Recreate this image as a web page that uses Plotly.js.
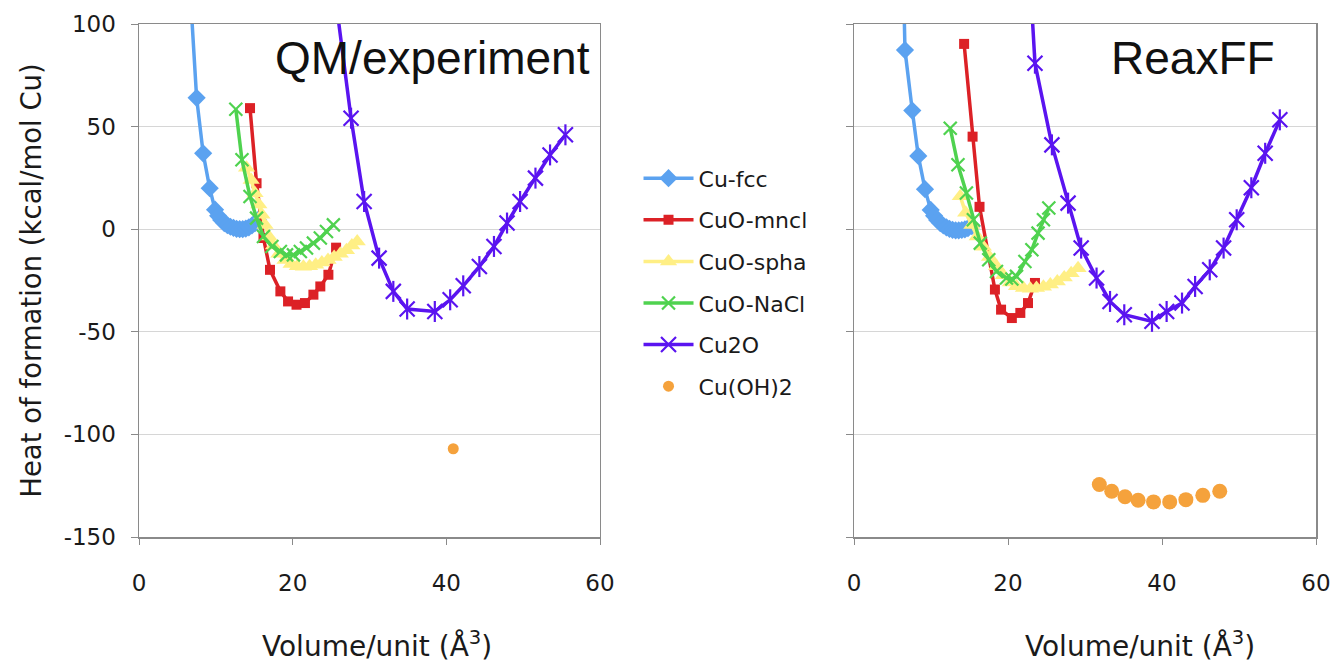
<!DOCTYPE html>
<html>
<head>
<meta charset="utf-8">
<script src="https://cdn.plot.ly/plotly-3.0.1.min.js"></script>
<style>
  html, body { margin: 0; padding: 0; background: #ffffff; }
  #chart { width: 1337px; height: 670px; }
</style>
</head>
<body>
<div id="chart"></div>
<script>
// ---- QM / experiment panel ----
const cuFccQmX = [6.6, 7.5, 8.35, 9.2, 9.9, 10.3, 10.7, 11.1, 11.5, 11.9, 12.3, 12.7, 13.1, 13.5, 13.9, 14.3, 14.7, 15.1, 15.5];
const cuFccQmY = [120, 64, 37, 20, 9.5, 6.5, 4.5, 3, 2, 1.2, 0.6, 0.2, 0, 0, 0.3, 0.9, 1.8, 3, 4.5];

const cuoMnclQmX = [14.45, 15.3, 16.2, 17.05, 18.4, 19.4, 20.5, 21.6, 22.7, 23.6, 24.65, 25.65];
const cuoMnclQmY = [59, 22.4, -4.3, -19.8, -30.3, -35.2, -36.8, -36, -31.9, -27.9, -22.2, -9];

const cuoSphaQmX = [14.0, 14.6, 15.1, 15.6, 16.0, 16.4, 16.9, 17.5, 18.2, 19.0, 19.8, 20.6, 21.4, 22.2, 23.0, 23.8, 24.6, 25.4, 26.2, 27.0, 27.7, 28.4];
const cuoSphaQmY = [30, 24, 17.5, 12, 7, 2, -3.5, -8, -12, -15, -17, -18, -18.3, -18, -17.3, -16.2, -15, -13.5, -12, -10.3, -8, -6];

const cuoNaClQmX = [12.6, 13.4, 14.45, 15.3, 16.2, 17.3, 18.4, 19.2, 20.1, 21.0, 21.8, 22.7, 23.6, 24.4, 25.3];
const cuoNaClQmY = [58.5, 33.8, 15.9, 5.4, -3.6, -8.4, -10.9, -12.5, -12.5, -10.9, -9.2, -6.8, -4.3, -1.1, 2.1];

const cu2oQmX = [25.5, 27.6, 29.3, 31.25, 33.1, 34.9, 38.5, 40.5, 42.2, 44.3, 46.2, 47.9, 49.6, 51.6, 53.5, 55.5];
const cu2oQmY = [115, 54.1, 13.5, -14.1, -30.3, -38.9, -40.1, -34.4, -27.6, -18.2, -8.4, 3, 13.5, 24.9, 36.2, 46];

const cuOH2QmX = [40.9];
const cuOH2QmY = [-107];

// ---- ReaxFF panel ----
const cuFccRxX = [6.4, 6.62, 7.57, 8.35, 9.22, 9.96, 10.4, 10.8, 11.2, 11.6, 12.0, 12.4, 12.8, 13.2, 13.6, 14.0, 14.4, 14.8, 15.3];
const cuFccRxY = [125, 87.3, 57.8, 35.7, 19.5, 9.4, 6.5, 4.5, 3, 1.8, 0.9, 0.2, -0.3, -0.6, -0.6, -0.4, -0.1, 0.5, 1.5];

const cuoMnclRxX = [14.3, 15.4, 16.3, 18.3, 19.1, 20.5, 21.6, 22.6, 23.5];
const cuoMnclRxY = [90.3, 45.1, 10.9, -29.4, -39.2, -43.3, -40.8, -36, -26.2];

const cuoSphaRxX = [13.8, 14.5, 15.3, 16.0, 16.8, 17.6, 18.5, 19.4, 20.3, 21.1, 22.0, 22.9, 23.7, 24.6, 25.5, 26.4, 27.3, 28.2, 29.1];
const cuoSphaRxY = [16, 8, 2, -3.5, -8.5, -13.5, -18, -22.5, -26, -27.8, -28.7, -29, -28.7, -28, -27, -25.5, -23.5, -21.5, -19];

const cuoNaClRxX = [12.5, 13.5, 14.6, 15.5, 16.4, 17.5, 18.5, 19.8, 20.5, 21.1, 22.2, 23.1, 23.9, 24.6, 25.3];
const cuoNaClRxY = [49.2, 31.4, 17.6, 4.6, -6.8, -14.9, -20.6, -23.8, -24.3, -23, -15.7, -10, -1.9, 4.6, 10.3];

const cu2oRxX = [22.9, 23.5, 25.7, 27.8, 29.5, 31.5, 33.25, 35.1, 38.7, 40.6, 42.6, 44.3, 46.2, 48.0, 49.7, 51.6, 53.4, 55.3];
const cu2oRxY = [120, 80.9, 41.1, 12.7, -9.2, -23.8, -35.2, -41.7, -44.9, -40.1, -36, -27.9, -19.8, -9.2, 4.6, 20.2, 37, 53.3];

const cuOH2RxX = [31.86, 33.47, 35.2, 36.9, 38.9, 41.0, 43.1, 45.3, 47.5];
const cuOH2RxY = [-124.4, -127.7, -130.4, -132.1, -132.9, -132.9, -131.8, -129.7, -127.7];

// ---- labels and ticks ----
const seriesNames = ['Cu-fcc', 'CuO-mncl', 'CuO-spha', 'CuO-NaCl', 'Cu2O', 'Cu(OH)2'];
const panelLabels = ['QM/experiment', 'ReaxFF'];
const xTickVals = [0, 20, 40, 60];
const yTickVals = [100, 50, 0, -50, -100, -150];
const yTickText = ['100', '50', '0', '-50', '-100', '-150'];
const xTitleText = 'Volume/unit (Å<sup>3</sup>)';
const yTitleText = 'Heat of formation (kcal/mol Cu)';

const colors = {
  fcc: '#5BA2F0',
  mncl: '#DC2126',
  spha: '#FFEF85',
  nacl: '#4FD24F',
  cu2o: '#5A14F0',
  oh: '#F5A23C'
};

const lineW = 3.5;

function filled(x, y, name, color, symbol, size, xa, ya, legend) {
  return {
    type: 'scatter', mode: 'lines+markers', x: x, y: y, name: name,
    xaxis: xa, yaxis: ya, legendgroup: name, showlegend: legend,
    line: { color: color, width: lineW },
    marker: { symbol: symbol, size: size, color: color, line: { width: 0 } }
  };
}

function stroked(x, y, name, color, symbol, size, xa, ya, legend) {
  return {
    type: 'scatter', mode: 'lines+markers', x: x, y: y, name: name,
    xaxis: xa, yaxis: ya, legendgroup: name, showlegend: legend,
    line: { color: color, width: lineW },
    marker: { symbol: symbol, size: size, color: color, line: { color: color, width: 2.2 } }
  };
}

function panel(d, xa, ya, legend, dotSize) {
  return [
    filled(d.fccX, d.fccY, seriesNames[0], colors.fcc, 'diamond', 14, xa, ya, legend),
    filled(d.mnclX, d.mnclY, seriesNames[1], colors.mncl, 'square', 10, xa, ya, legend),
    filled(d.sphaX, d.sphaY, seriesNames[2], colors.spha, 'triangle-up', 15, xa, ya, legend),
    stroked(d.naclX, d.naclY, seriesNames[3], colors.nacl, 'x-thin-open', 13, xa, ya, legend),
    stroked(d.cu2oX, d.cu2oY, seriesNames[4], colors.cu2o, 'x-thin-open', 15, xa, ya, legend),
    // vertical stroke completing the Cu2O star marker
    {
      type: 'scatter', mode: 'markers', x: d.cu2oX, y: d.cu2oY, name: seriesNames[4],
      xaxis: xa, yaxis: ya, legendgroup: seriesNames[4], showlegend: false, hoverinfo: 'skip',
      marker: { symbol: 'line-ns-open', size: 15, color: colors.cu2o, line: { color: colors.cu2o, width: 2.2 } }
    },
    {
      type: 'scatter', mode: 'markers', x: d.ohX, y: d.ohY, name: seriesNames[5],
      xaxis: xa, yaxis: ya, legendgroup: seriesNames[5], showlegend: legend,
      marker: { symbol: 'circle', size: dotSize, color: colors.oh }
    }
  ];
}

const traces = [].concat(
  panel({
    fccX: cuFccQmX, fccY: cuFccQmY, mnclX: cuoMnclQmX, mnclY: cuoMnclQmY,
    sphaX: cuoSphaQmX, sphaY: cuoSphaQmY, naclX: cuoNaClQmX, naclY: cuoNaClQmY,
    cu2oX: cu2oQmX, cu2oY: cu2oQmY, ohX: cuOH2QmX, ohY: cuOH2QmY
  }, 'x', 'y', true, 11),
  panel({
    fccX: cuFccRxX, fccY: cuFccRxY, mnclX: cuoMnclRxX, mnclY: cuoMnclRxY,
    sphaX: cuoSphaRxX, sphaY: cuoSphaRxY, naclX: cuoNaClRxX, naclY: cuoNaClRxY,
    cu2oX: cu2oRxX, cu2oY: cu2oRxY, ohX: cuOH2RxX, ohY: cuOH2RxY
  }, 'x2', 'y2', false, 15)
);

const tickFont = { family: 'DejaVu Sans', size: 23, color: '#1a1a1a' };
const frameColor = '#8a8a8a';

function xAxis(domain, anchor) {
  return {
    domain: domain, anchor: anchor, range: [0, 60], tickvals: xTickVals,
    ticks: 'outside', ticklen: 6, tickcolor: frameColor, tickwidth: 1,
    showline: true, mirror: true, linecolor: frameColor, linewidth: 1.5,
    showgrid: false, zeroline: false, tickfont: tickFont, ticklabelstandoff: 19,
    fixedrange: true
  };
}

function yAxis(anchor, labels) {
  return {
    domain: [0, 1], anchor: anchor, range: [-150, 100],
    tickvals: yTickVals, ticktext: yTickText, showticklabels: labels,
    ticks: 'outside', ticklen: 7, tickcolor: frameColor, tickwidth: 1,
    showline: true, mirror: true, linecolor: frameColor, linewidth: 1.5,
    showgrid: true, gridcolor: '#d6d6d6', gridwidth: 1, zeroline: false,
    tickfont: tickFont, ticklabelstandoff: 10, fixedrange: true
  };
}

const yLeft = yAxis('x', true);
yLeft.title = { text: yTitleText, font: { family: 'DejaVu Sans', size: 27.5, color: '#1a1a1a' }, standoff: 14 };

const layout = {
  width: 1337, height: 670,
  margin: { l: 139, r: 21, t: 24, b: 132.5, pad: 0 },
  paper_bgcolor: '#ffffff', plot_bgcolor: '#ffffff',
  showlegend: true,
  xaxis: xAxis([0, 0.39167], 'y'),
  yaxis: yLeft,
  xaxis2: xAxis([0.60748, 1], 'y2'),
  yaxis2: yAxis('x2', false),
  legend: {
    x: 0.4244, y: 0.74, xanchor: 'left', yanchor: 'top',
    bgcolor: 'rgba(0,0,0,0)', borderwidth: 0,
    font: { family: 'DejaVu Sans', size: 22, color: '#1a1a1a' },
    itemwidth: 50,
    tracegroupgap: 10, itemclick: false, itemdoubleclick: false
  },
  annotations: [
    { text: panelLabels[0], xref: 'paper', yref: 'paper', x: 0.3849, y: 0.9338, xanchor: 'right', yanchor: 'middle',
      showarrow: false, font: { family: 'Liberation Sans', size: 46, color: '#111111' } },
    { text: panelLabels[1], xref: 'paper', yref: 'paper', x: 0.9669, y: 0.9338, xanchor: 'right', yanchor: 'middle',
      showarrow: false, font: { family: 'Liberation Sans', size: 46, color: '#111111' } },
    { text: xTitleText, xref: 'paper', yref: 'paper', x: 0.2022, y: -0.2093, xanchor: 'center', yanchor: 'middle',
      showarrow: false, font: { family: 'DejaVu Sans', size: 28, color: '#1a1a1a' } },
    { text: xTitleText, xref: 'paper', yref: 'paper', x: 0.8505, y: -0.2093, xanchor: 'center', yanchor: 'middle',
      showarrow: false, font: { family: 'DejaVu Sans', size: 28, color: '#1a1a1a' } }
  ]
};

Plotly.newPlot('chart', traces, layout, { displayModeBar: false, staticPlot: true });
</script>
</body>
</html>
